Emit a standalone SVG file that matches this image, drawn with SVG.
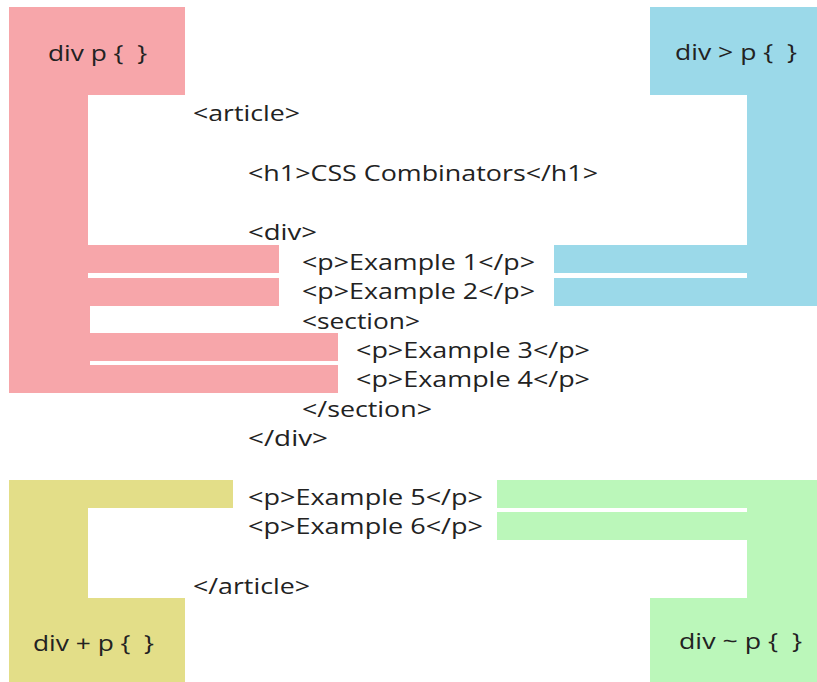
<svg xmlns="http://www.w3.org/2000/svg" width="817" height="682" viewBox="0 0 817 682">
  <style>
    .pink { fill: #f7a6aa; }
    .blue { fill: #9bd9e9; }
    .yellow { fill: #e3de88; }
    .green { fill: #bbf7ba; }
    text { font-family: "Open Sans", "DejaVu Sans", sans-serif; font-size: 22px; fill: #222; }
  </style>
  <rect width="817" height="682" fill="#ffffff"/>

  <!-- descendant selector: div p -->
  <g id="descendant">
    <rect class="pink" x="9" y="7" width="176" height="88"/>
    <rect class="pink" x="9" y="95" width="79" height="298"/>
    <rect class="pink" x="88" y="306" width="2" height="87"/>
    <rect class="pink" x="88" y="245" width="191" height="28"/>
    <rect class="pink" x="88" y="278" width="191" height="28"/>
    <rect class="pink" x="90" y="333" width="248" height="28"/>
    <rect class="pink" x="90" y="365" width="248" height="28"/>
    <text x="48" y="61" textLength="99" lengthAdjust="spacingAndGlyphs">div p {&#160; }</text>
  </g>

  <!-- child selector: div > p -->
  <g id="child">
    <rect class="blue" x="650" y="7" width="167" height="88"/>
    <rect class="blue" x="747" y="95" width="70" height="211"/>
    <rect class="blue" x="554" y="245" width="193" height="28"/>
    <rect class="blue" x="554" y="278" width="193" height="28"/>
    <text x="675" y="60" textLength="122" lengthAdjust="spacingAndGlyphs">div &gt; p {&#160; }</text>
  </g>

  <!-- adjacent sibling selector: div + p -->
  <g id="adjacent">
    <rect class="yellow" x="9" y="480" width="224" height="28"/>
    <rect class="yellow" x="9" y="508" width="79" height="90"/>
    <rect class="yellow" x="9" y="598" width="176" height="84"/>
    <text x="33" y="651" textLength="121" lengthAdjust="spacingAndGlyphs">div + p {&#160; }</text>
  </g>

  <!-- general sibling selector: div ~ p -->
  <g id="general-sibling">
    <rect class="green" x="497" y="480" width="320" height="28"/>
    <rect class="green" x="497" y="512" width="250" height="28"/>
    <rect class="green" x="747" y="508" width="70" height="174"/>
    <rect class="green" x="650" y="598" width="167" height="84"/>
    <text x="679" y="649" textLength="123" lengthAdjust="spacingAndGlyphs">div ~ p {&#160; }</text>
  </g>

  <!-- markup listing -->
  <g id="markup">
    <text x="193" y="121" textLength="107" lengthAdjust="spacingAndGlyphs">&lt;article&gt;</text>
    <text x="248" y="181" textLength="350" lengthAdjust="spacingAndGlyphs">&lt;h1&gt;CSS Combinators&lt;/h1&gt;</text>
    <text x="248" y="240" textLength="69" lengthAdjust="spacingAndGlyphs">&lt;div&gt;</text>
    <text x="302" y="270" textLength="233" lengthAdjust="spacingAndGlyphs">&lt;p&gt;Example 1&lt;/p&gt;</text>
    <text x="302" y="299" textLength="233" lengthAdjust="spacingAndGlyphs">&lt;p&gt;Example 2&lt;/p&gt;</text>
    <text x="302" y="329" textLength="118" lengthAdjust="spacingAndGlyphs">&lt;section&gt;</text>
    <text x="356" y="358" textLength="234" lengthAdjust="spacingAndGlyphs">&lt;p&gt;Example 3&lt;/p&gt;</text>
    <text x="356" y="387" textLength="234" lengthAdjust="spacingAndGlyphs">&lt;p&gt;Example 4&lt;/p&gt;</text>
    <text x="302" y="417" textLength="130" lengthAdjust="spacingAndGlyphs">&lt;/section&gt;</text>
    <text x="248" y="446" textLength="80" lengthAdjust="spacingAndGlyphs">&lt;/div&gt;</text>
    <text x="248" y="505" textLength="235" lengthAdjust="spacingAndGlyphs">&lt;p&gt;Example 5&lt;/p&gt;</text>
    <text x="248" y="534" textLength="235" lengthAdjust="spacingAndGlyphs">&lt;p&gt;Example 6&lt;/p&gt;</text>
    <text x="193" y="594" textLength="117" lengthAdjust="spacingAndGlyphs">&lt;/article&gt;</text>
  </g>
</svg>
